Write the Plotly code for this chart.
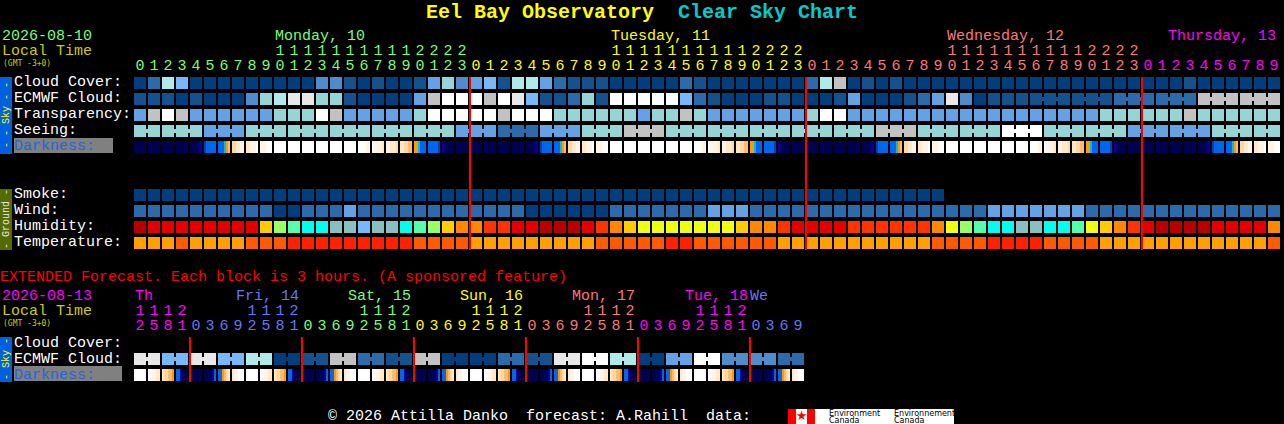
import plotly.graph_objects as go

MONO = "Liberation Mono"

# cloud / sky colour scale, light grey last
SKY_COLORS = ["#003e7e", "#13528f", "#2c6bab", "#4f8ccb", "#63a2e4", "#77b8fa",
              "#95d5d5", "#aeeaea", "#e8e8e8", "#ffffff", "#c2c2c2"]
HUMIDITY_COLORS = ["#b80000", "#e40000", "#ff3300", "#ff8800", "#ffcc00", "#eeff11",
                   "#99ff66", "#55ffaa", "#00ffee", "#88c0c0", "#77b8fa"]
TEMP_COLORS = ["#ffa000", "#ff5a00", "#ff2000"]
DARK_COLORS = ["#000050", "#00006e", "#0000a0", "#0040c0", "#0066ee", "#00bbee",
               "#ff9900", "#ffbb66", "#ffd9a0", "#ffe8c8", "#fff4e4", "#ffffff"]

CLOUD_COVER = [0, 2, 7, 5, 0, 0, 0, 0, 0, 0, 0, 0, 0, 3, 3, 1, 0, 1, 0, 0, 1, 4, 6, 3,
               4, 5, 1, 7, 7, 4, 2, 1, 1, 1, 0, 0, 0, 0, 0, 2, 1, 0, 0, 0, 0, 0, 0, 0,
               2, 7, 10, 0, 1, 0, 1, 0, 0, 0, 0, 0, 0, 0, 0, 0, 0, 0, 0, 0, 0, 0, 0, 0,
               0, 0, 0, 1, 0, 0, 0, 0, 0, 0]
ECMWF_CLOUD = [1, 1, 1, 0, 1, 0, 0, 0, 3, 6, 7, 8, 8, 6, 6, 1, 0, 0, 0, 0, 4, 10, 9, 9,
               9, 10, 9, 8, 5, 1, 1, 2, 6, 1, 9, 9, 9, 9, 9, 5, 2, 1, 0, 0, 0, 1, 1, 0,
               0, 0, 1, 4, 0, 0, 0, 1, 2, 4, 8, 3, 0, 1, 1, 1, 1, 1, 1, 1, 1, 1, 2, 2,
               2, 2, 2, 2, 10, 10, 10, 10, 10, 10]
TRANSPARENCY = [4, 10, 9, 10, 4, 4, 4, 4, 4, 4, 6, 6, 6, 9, 10, 4, 4, 4, 4, 4, 6, 9, 9, 9,
                9, 9, 10, 9, 9, 9, 6, 6, 6, 6, 6, 6, 4, 6, 6, 10, 6, 4, 4, 4, 4, 4, 4, 4,
                6, 9, 9, 4, 4, 4, 4, 4, 4, 4, 4, 4, 4, 4, 4, 4, 4, 4, 4, 4, 4, 6, 6, 6,
                6, 6, 6, 10, 6, 6, 6, 6, 6, 6]
# seeing comes in blocks, not single hours
SEEING_BLOCKS = [2] + [3] * 26 + [2]
SEEING = [6, 6, 4, 6, 6, 6, 6, 6, 4, 2, 4, 6, 10, 6, 6, 6, 6, 6, 10, 6, 6, 9, 6, 6, 4, 4, 6, 6]
# one letter per hour, see DARK_CELLS
DARKNESS = list("nnnnabcdefwwwwwwghijklmn" "nnnnabcdefwwwwwwghijklmn"
                "nnnnabcdefwwwwwwghijklmn" "nnnnabcdef")
DARK_CELLS = {
    "n": [0, 0, 0, 0, 0, 0],
    "a": [0, 0, 0, 0, 1, 2],
    "b": [3, 4, 4, 4, 4, 4],
    "c": [4, 4, 4, 5, 6, 7],
    "d": [8, 8, 9, 9, 10, 10],
    "e": [9, 9, 10, 10, 10, 11],
    "f": [10, 10, 10, 11, 11, 11],
    "w": [11, 11, 11, 11, 11, 11],
    "g": [11, 11, 11, 11, 10, 10],
    "h": [11, 10, 10, 10, 10, 9],
    "i": [10, 10, 9, 9, 9, 8],
    "j": [9, 9, 8, 8, 7, 7],
    "k": [6, 6, 5, 4, 4, 4],
    "l": [4, 4, 4, 4, 4, 3],
    "m": [2, 1, 0, 0, 0, 0],
    "x": [11, 11, 10, 10, 9, 9],
    "y": [9, 8, 8, 7, 7, 6],
    "z": [4, 4, 2, 0, 0, 0],
    "p": [0, 0, 0, 0, 2, 4],
    "q": [4, 4, 6, 7, 8, 9],
    "r": [9, 10, 10, 11, 11, 11],
}

SMOKE = [0] * 58
WIND = [2, 2, 2, 2, 2, 2, 2, 2, 2, 2, 0, 0, 2, 2, 2, 4, 2, 2, 2, 2, 2, 2, 2, 2,
        2, 2, 2, 2, 0, 0, 0, 0, 0, 0, 2, 2, 2, 2, 2, 2, 2, 4, 4, 4, 2, 2, 2, 2,
        2, 2, 2, 2, 2, 2, 2, 2, 2, 2, 2, 2, 2, 4, 4, 4, 4, 4, 4, 4, 2, 2, 2, 2,
        2, 2, 2, 2, 2, 2, 2, 2, 2, 2]
HUMIDITY = [0, 1, 1, 1, 1, 1, 1, 1, 1, 4, 6, 7, 8, 8, 9, 9, 10, 9, 9, 8, 7, 6, 4, 3,
            3, 2, 2, 1, 1, 0, 0, 0, 1, 2, 3, 4, 5, 5, 5, 5, 5, 5, 5, 4, 3, 3, 2, 1,
            1, 1, 1, 2, 2, 2, 2, 2, 2, 3, 5, 6, 7, 8, 8, 9, 9, 8, 8, 7, 5, 4, 3, 2,
            1, 0, 0, 0, 0, 1, 1, 1, 1, 3]
TEMPERATURE = [0, 0, 0, 1, 0, 0, 0, 0, 1, 1, 1, 2, 2, 2, 2, 2, 2, 2, 2, 2, 1, 1, 1, 1,
               0, 0, 0, 0, 0, 0, 0, 0, 0, 1, 1, 1, 1, 1, 2, 2, 1, 1, 1, 1, 1, 1, 0, 0,
               0, 0, 0, 0, 0, 0, 0, 0, 0, 1, 1, 1, 1, 2, 2, 2, 2, 1, 1, 1, 1, 0, 0, 0,
               0, 0, 0, 0, 0, 0, 0, 0, 0, 1]

# extended forecast, 6 hour blocks
EXT_ECMWF = [8, 5, 8, 5, 7, 0, 1, 10, 2, 1, 10, 0, 0, 2, 1, 8, 9, 7, 0, 4, 9, 3, 3, 2]
EXT_DARKNESS = list("wxyznpqr" "wxyznpqr" "wxyznpqr" "wxyznpqr" "wxyznpqr" "wxyznpqr")

MIDNIGHTS = [24, 48, 72]
EXT_MIDNIGHTS = [4, 12, 20, 28, 36, 44]

GREEN, YELLOW, SALMON, MAGENTA, PERI = "#77ff77", "#ffff00", "#ff7777", "#ff00ff", "#6677ff"
DAY_COLORS = [GREEN, YELLOW, SALMON, MAGENTA]
EXT_DAY_COLORS = [MAGENTA, PERI, GREEN, YELLOW, SALMON, MAGENTA, PERI]
DAY_LABELS = ["Monday, 10", "Tuesday, 11", "Wednesday, 12", "Thursday, 13"]
EXT_DAY_LABELS = ["Th", "Fri, 14", "Sat, 15", "Sun, 16", "Mon, 17", "Tue, 18", "We"]


def px(x):
    return (x - 140) / 14


def py(y):
    return (y - 83) / 16


def step_scale(colors):
    n = len(colors)
    scale = []
    for i, c in enumerate(colors):
        scale += [[i / n, c], [(i + 1) / n, c]]
    return scale


def expand(values, blocks):
    out = []
    for v, b in zip(values, blocks):
        out += [v] * b
    return out


fig = go.Figure()


def add_row(values, colors, y):
    fig.add_trace(go.Heatmap(z=[values], x=list(range(len(values))), y=[y], dy=1,
                             xgap=2, ygap=4, colorscale=step_scale(colors),
                             zmin=-0.5, zmax=len(colors) - 0.5,
                             showscale=False, hoverinfo="skip"))


def add_connectors(values, blocks, colors, y, start=0):
    # narrow bridge through the cells of one block
    col = start
    for v, b in zip(values, blocks):
        fig.add_trace(go.Scatter(x=[col, col + b - 1], y=[y, y], mode="lines",
                                 line=dict(color=colors[v], width=4),
                                 hoverinfo="skip", showlegend=False))
        col += b


def add_darkness(letters, y):
    x, z = [], []
    for col, letter in enumerate(letters):
        for s, v in enumerate(DARK_CELLS[letter]):
            x.append(col + (2 * s - 5) / 14)
            z.append(v)
        x.append(col + 0.5)
        z.append(None)
    fig.add_trace(go.Heatmap(z=[z], x=x, y=[y], dy=1, ygap=4,
                             colorscale=step_scale(DARK_COLORS),
                             zmin=-0.5, zmax=len(DARK_COLORS) - 0.5,
                             showscale=False, hoverinfo="skip"))


def add_text(x, y, text, color, size=15, pos="middle right", font=MONO):
    fig.add_trace(go.Scatter(x=[x], y=[y], text=[text], mode="text", textposition=pos,
                             textfont=dict(family=font, size=size, color=color),
                             hoverinfo="skip", showlegend=False))


def add_redlines(cols, y0, y1):
    x, y = [], []
    for c in cols:
        x += [c - 3 / 7, c - 3 / 7, None]
        y += [y0, y1, None]
    fig.add_trace(go.Scatter(x=x, y=y, mode="lines", line=dict(color="#ff0000", width=2),
                             hoverinfo="skip", showlegend=False))


# hourly chart
add_row(CLOUD_COVER, SKY_COLORS, 0)
add_row(ECMWF_CLOUD, SKY_COLORS, 1)
add_connectors([ECMWF_CLOUD[c] for c in range(64, 82, 3)], [3] * 6, SKY_COLORS, 1, start=64)
add_row(TRANSPARENCY, SKY_COLORS, 2)
add_row(expand(SEEING, SEEING_BLOCKS), SKY_COLORS, 3)
add_connectors(SEEING, SEEING_BLOCKS, SKY_COLORS, 3)
add_darkness(DARKNESS, 4)
add_row(SMOKE, SKY_COLORS, 7)
add_row(WIND, SKY_COLORS, 8)
add_row(HUMIDITY, HUMIDITY_COLORS, 9)
add_row(TEMPERATURE, TEMP_COLORS, 10)
add_redlines(MIDNIGHTS, py(77), py(250))

# extended chart
add_row(expand(EXT_ECMWF, [2] * 24), SKY_COLORS, py(359))
add_connectors(EXT_ECMWF, [2] * 24, SKY_COLORS, py(359))
add_darkness(EXT_DARKNESS, py(375))
add_redlines(EXT_MIDNIGHTS, py(337), py(382))

# hour digits
for col in range(82):
    hour = col % 24
    color = DAY_COLORS[col // 24]
    if hour >= 10:
        add_text(col, py(51), str(hour // 10), color, pos="middle center")
    add_text(col, py(66), str(hour % 10), color, pos="middle center")
for col in range(48):
    hour = (12 + 3 * col) % 24
    color = EXT_DAY_COLORS[(col + 4) // 8]
    if hour >= 10:
        add_text(col, py(311), str(hour // 10), color, pos="middle center")
    add_text(col, py(326), str(hour % 10), color, pos="middle center")

for label, color, left in zip(DAY_LABELS, DAY_COLORS, [275, 611, 947, 1168]):
    add_text(px(left), py(36), label, color)
for label, color, left in zip(EXT_DAY_LABELS, EXT_DAY_COLORS, [135, 236, 348, 460, 572, 685, 750]):
    add_text(px(left), py(296), label, color)

# left column
add_text(px(2), py(36), "2026-08-10", GREEN)
add_text(px(2), py(51), "Local Time", "#cccc00")
add_text(px(3), py(64), "(GMT -3+0)", "#cccc00", size=8, font="DejaVu Sans Mono")
add_text(px(2), py(296), "2026-08-13", MAGENTA)
add_text(px(2), py(311), "Local Time", "#cccc00")
add_text(px(3), py(324), "(GMT -3+0)", "#cccc00", size=8, font="DejaVu Sans Mono")
for label, y in zip(["Cloud Cover:", "ECMWF Cloud:", "Transparency:", "Seeing:"], [82, 98, 114, 130]):
    add_text(px(14), py(y), label, "#ffffff")
add_text(px(14), py(146), "Darkness:", "#2266dd")
for label, y in zip(["Smoke:", "Wind:", "Humidity:", "Temperature:"], [194, 210, 226, 242]):
    add_text(px(14), py(y), label, "#ffffff")
add_text(px(14), py(343), "Cloud Cover:", "#ffffff")
add_text(px(14), py(359), "ECMWF Cloud:", "#ffffff")
add_text(px(14), py(375), "Darkness:", "#2266dd")

add_text(px(0), py(277), "EXTENDED Forecast. Each block is 3 hours. (A sponsored feature)", "#ff0000")
add_text(px(328), py(416), "© 2026 Attilla Danko  forecast: A.Rahill  data:", "#ffffff")

# logo
add_text(px(801.5), py(416.5), "\u2605", "#ff0000", size=13, pos="middle center", font="DejaVu Sans")
for left in [829, 894]:
    add_text(px(left), py(421), "Canada", "#000000", size=8, font="DejaVu Sans")
add_text(px(829), py(414), "Environment", "#000000", size=8, font="DejaVu Sans")
add_text(px(894), py(414), "Environnement", "#000000", size=8, font="DejaVu Sans")


def rect(x0, y0, x1, y1, color):
    return dict(type="rect", xref="x", yref="y", x0=px(x0), x1=px(x1), y0=py(y0), y1=py(y1),
                fillcolor=color, line_width=0, layer="below")


shapes = [
    rect(0, 77, 12, 154, "#0060e0"),
    rect(0, 189, 12, 250, "#556b00"),
    rect(0, 337, 12, 382, "#0060e0"),
    rect(14, 138, 113, 153, "#808080"),
    rect(14, 366, 122, 381, "#808080"),
    rect(788, 409, 954, 424, "#ffffff"),
    rect(788, 409, 796, 424, "#ff0000"),
    rect(807, 409, 815, 424, "#ff0000"),
]

annotations = []
for text, y, color in [("- - Sky - -", 115, "#ffff00"), ("- Ground -", 219, "#e8e8e8"), ("- Sky -", 359, "#ffff00")]:
    annotations.append(dict(x=px(6), y=py(y), xref="x", yref="y", text=text, textangle=-90,
                            showarrow=False, font=dict(family=MONO, size=10, color=color)))

title = ('<span style="color:#ffff00">Eel Bay Observatory</span>'
         '\u00a0\u00a0<span style="color:#00cccc">Clear Sky Chart</span>')

fig.update_layout(
    width=1284, height=424, autosize=False,
    margin=dict(l=0, r=0, t=0, b=0),
    paper_bgcolor="#000000", plot_bgcolor="#000000",
    showlegend=False, shapes=shapes, annotations=annotations,
    title=dict(text=title, x=642 / 1284, y=1 - 11 / 424, xanchor="center", yanchor="middle",
               font=dict(family=MONO, size=20, weight="bold")),
    xaxis=dict(range=[px(0), px(1284)], visible=False, fixedrange=True),
    yaxis=dict(range=[py(424), py(0)], visible=False, fixedrange=True),
)

fig.write_html("out.html", config={"displayModeBar": False},
               post_script="document.body.style.margin='0';document.body.style.background='#000';")
